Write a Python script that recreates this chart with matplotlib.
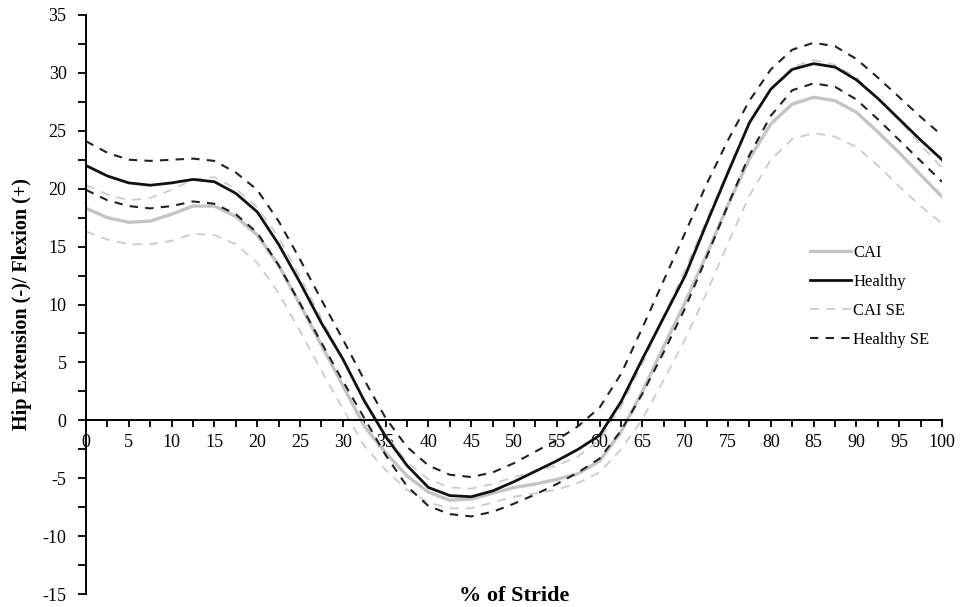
import numpy as np
import matplotlib
matplotlib.use("Agg")
import matplotlib.pyplot as plt
from matplotlib.ticker import MultipleLocator

plt.rcParams['font.family'] = ['Liberation Serif', 'DejaVu Serif']
plt.rcParams['axes.unicode_minus'] = False

# % of stride, every 2.5
stride = np.arange(0, 100.1, 2.5)

healthy = [22.0, 21.1, 20.5, 20.3, 20.5, 20.8, 20.6, 19.6, 18.0, 15.2,
           11.9, 8.4, 5.3, 1.7, -1.4, -3.9, -5.8, -6.5, -6.6, -6.1,
           -5.3, -4.4, -3.5, -2.5, -1.3, 1.6, 5.3, 8.9, 12.5, 17.0,
           21.4, 25.7, 28.6, 30.3, 30.8, 30.5, 29.4, 27.8, 26.0, 24.2, 22.5]
cai = [18.3, 17.5, 17.1, 17.2, 17.8, 18.5, 18.5, 17.6, 16.0, 13.4,
       10.0, 6.5, 3.0, -0.5, -2.8, -4.8, -6.2, -6.9, -6.8, -6.3,
       -5.8, -5.5, -5.1, -4.6, -3.5, -1.0, 2.5, 6.4, 10.2, 14.3,
       18.6, 22.6, 25.6, 27.3, 27.9, 27.6, 26.6, 24.9, 23.1, 21.2, 19.3]
healthy_se_hi = [24.1, 23.1, 22.5, 22.4, 22.5, 22.6, 22.4, 21.4, 19.9, 17.2,
                 13.9, 10.4, 7.0, 3.5, 0.2, -2.3, -3.9, -4.7, -4.9, -4.5,
                 -3.7, -2.7, -1.7, -0.5, 1.1, 4.0, 8.0, 12.1, 16.2, 20.4,
                 24.2, 27.6, 30.3, 32.0, 32.6, 32.3, 31.2, 29.6, 27.9, 26.2, 24.6]
healthy_se_lo = [19.9, 19.0, 18.5, 18.3, 18.5, 18.9, 18.7, 17.8, 16.2, 13.4,
                 10.1, 6.7, 3.4, 0.2, -3.0, -5.7, -7.4, -8.1, -8.3, -7.9,
                 -7.2, -6.4, -5.5, -4.5, -3.3, -0.9, 2.3, 5.9, 9.7, 14.1,
                 18.6, 22.9, 26.3, 28.5, 29.1, 28.8, 27.7, 26.0, 24.2, 22.4, 20.6]
cai_se_hi = [20.3, 19.5, 19.0, 19.2, 19.9, 20.8, 21.0, 20.0, 18.4, 15.8,
             12.4, 8.8, 5.3, 1.6, -1.2, -3.6, -5.1, -5.8, -5.9, -5.5,
             -4.9, -4.4, -3.9, -3.1, -1.7, 1.2, 4.9, 9.0, 13.0, 17.3,
             21.6, 25.6, 28.6, 30.5, 31.1, 30.7, 29.6, 27.8, 25.9, 23.8, 21.8]
cai_se_lo = [16.3, 15.6, 15.2, 15.2, 15.5, 16.1, 16.0, 15.2, 13.6, 11.0,
             7.7, 4.3, 1.0, -2.2, -4.3, -6.0, -7.1, -7.6, -7.6, -7.1,
             -6.6, -6.3, -6.0, -5.4, -4.5, -2.5, 0.1, 3.5, 7.0, 11.0,
             15.3, 19.4, 22.5, 24.3, 24.8, 24.5, 23.6, 22.0, 20.2, 18.5, 17.0]

fig = plt.figure(figsize=(9.64, 6.07), dpi=100)
ax = fig.add_axes([0.0892, 0.0214, 0.8880, 0.9539])

gray = '#c4c4c4'
black = '#111111'
ax.plot(stride, cai_se_hi, color='#cccccc', lw=1.3, dashes=(5, 4), label='CAI SE')
ax.plot(stride, cai_se_lo, color='#cccccc', lw=1.3, dashes=(5, 4))
ax.plot(stride, cai, color=gray, lw=2.4, label='CAI')
ax.plot(stride, healthy_se_hi, color='#222222', lw=1.5, dashes=(4, 3.5), label='Healthy SE')
ax.plot(stride, healthy_se_lo, color='#222222', lw=1.5, dashes=(4, 3.5))
ax.plot(stride, healthy, color=black, lw=2.0, label='Healthy')

ax.set_xlim(0, 100)
ax.set_ylim(-15, 35)
ax.spines['top'].set_visible(False)
ax.spines['right'].set_visible(False)
ax.spines['bottom'].set_position(('data', 0))
for s in ['left', 'bottom']:
    ax.spines[s].set_linewidth(1.4)

ax.xaxis.set_major_locator(MultipleLocator(5))
ax.xaxis.set_minor_locator(MultipleLocator(2.5))
ax.yaxis.set_major_locator(MultipleLocator(5))
ax.yaxis.set_minor_locator(MultipleLocator(2.5))
ax.tick_params(axis='both', which='both', direction='out', width=1.3, labelsize=13)
ax.tick_params(axis='x', which='both', length=5, pad=5)
ax.tick_params(axis='y', which='both', length=6, pad=8)
ax.set_xticklabels([str(int(v)) for v in ax.get_xticks()])
ax.set_yticklabels([str(int(v)) for v in ax.get_yticks()])

ax.set_ylabel('Hip Extension (-)/ Flexion (+)', fontsize=14.5, fontweight='bold')
ax.yaxis.set_label_coords(-0.063, 0.5)
ax.set_xlabel('% of Stride', fontsize=16, fontweight='bold')
ax.xaxis.set_label_coords(0.5, 0.014)

h, l = ax.get_legend_handles_labels()
order = [l.index('CAI'), l.index('Healthy'), l.index('CAI SE'), l.index('Healthy SE')]
ax.legend([h[i] for i in order], [l[i] for i in order], loc='center left',
          bbox_to_anchor=(0.840, 0.512), bbox_transform=fig.transFigure,
          frameon=False, fontsize=12, handlelength=2.5, handletextpad=0.1,
          labelspacing=0.78, borderpad=0, borderaxespad=0)

fig.savefig('out.png', dpi=100)
